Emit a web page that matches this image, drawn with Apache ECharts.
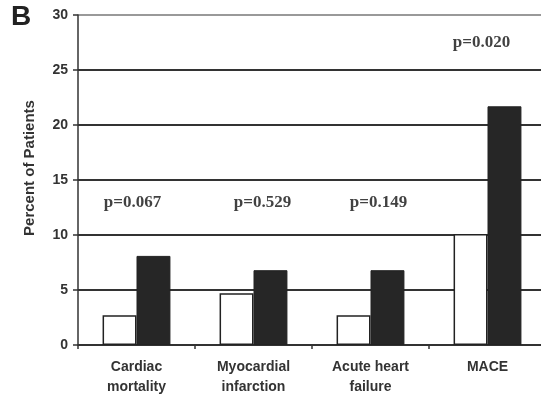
<!DOCTYPE html>
<html><head><meta charset="utf-8">
<script src="https://cdn.jsdelivr.net/npm/echarts@6/dist/echarts.min.js"></script>
<style>html,body{margin:0;padding:0;background:#fff}#c{width:541px;height:395px}</style>
</head><body><div id="c"></div>
<script>
var categories = ['Cardiac\nmortality', 'Myocardial\ninfarction', 'Acute heart\nfailure', 'MACE'];
var groupA = [2.7, 4.7, 2.7, 10.1];
var groupB = [8.1, 6.8, 6.8, 21.7];
var pLabels = ['p=0.067', 'p=0.529', 'p=0.149', 'p=0.020'];
var pHeights = [12.9, 12.9, 12.9, 27.5];
var yTicks = [0, 5, 10, 15, 20, 25, 30];

var labelShift = [-4, 9, 8, -6];
var sans = '"Liberation Sans", Arial, sans-serif';
var chart = echarts.init(document.getElementById('c'), null, {renderer: 'canvas'});
chart.setOption({
  animation: false,
  backgroundColor: '#fff',
  graphic: [{type: 'text', left: 11, top: 3, style: {text: 'B', font: 'bold 28px ' + sans, fill: '#222'}}],
  grid: {left: 78, width: 468, top: 15, height: 330, containLabel: false, outerBoundsMode: 'none'},
  xAxis: {
    type: 'category', data: categories,
    axisLine: {lineStyle: {color: '#333', width: 1.5}},
    axisTick: {show: true, length: 4, inside: false, lineStyle: {color: '#333', width: 1.5}},
    axisLabel: {color: '#333', fontFamily: sans, fontWeight: 'bold', fontSize: 14, lineHeight: 20, margin: 12, interval: 0}
  },
  yAxis: {
    type: 'value', min: 0, max: 30, interval: 5,
    name: 'Percent of Patients', nameLocation: 'middle', nameGap: 41,
    nameTextStyle: {color: '#333', fontFamily: sans, fontWeight: 'bold', fontSize: 15, padding: [0, 0, 0, 24]},
    axisLine: {show: true, lineStyle: {color: '#333', width: 1.5}},
    axisTick: {show: true, length: 5, lineStyle: {color: '#333', width: 1.5}},
    axisLabel: {color: '#333', fontFamily: sans, fontWeight: 'bold', fontSize: 14, margin: 10,
      formatter: function (v) { return yTicks.indexOf(v) >= 0 ? String(v) : ''; }},
    splitLine: {show: true, lineStyle: {color: ['#333', '#333', '#333', '#333', '#333', '#333', '#999'], width: 1.8}}
  },
  series: [
    {type: 'bar', data: groupA, barGap: '0%', barCategoryGap: '42%',
      itemStyle: {color: '#fff', borderColor: '#222', borderWidth: 1.5}},
    {type: 'bar', data: groupB,
      itemStyle: {color: '#262626', borderColor: '#222', borderWidth: 1}},
    {type: 'scatter', symbolSize: 0, silent: true,
      data: pLabels.map(function (t, i) {
        return {value: [i, pHeights[i]], label: {show: true, formatter: t, position: 'inside', offset: [labelShift[i], 0]}};
      }),
      label: {color: '#111', fontFamily: '"Liberation Serif", "Times New Roman", serif', fontWeight: 'bold', fontSize: 17}
    }
  ]
});
</script></body></html>
